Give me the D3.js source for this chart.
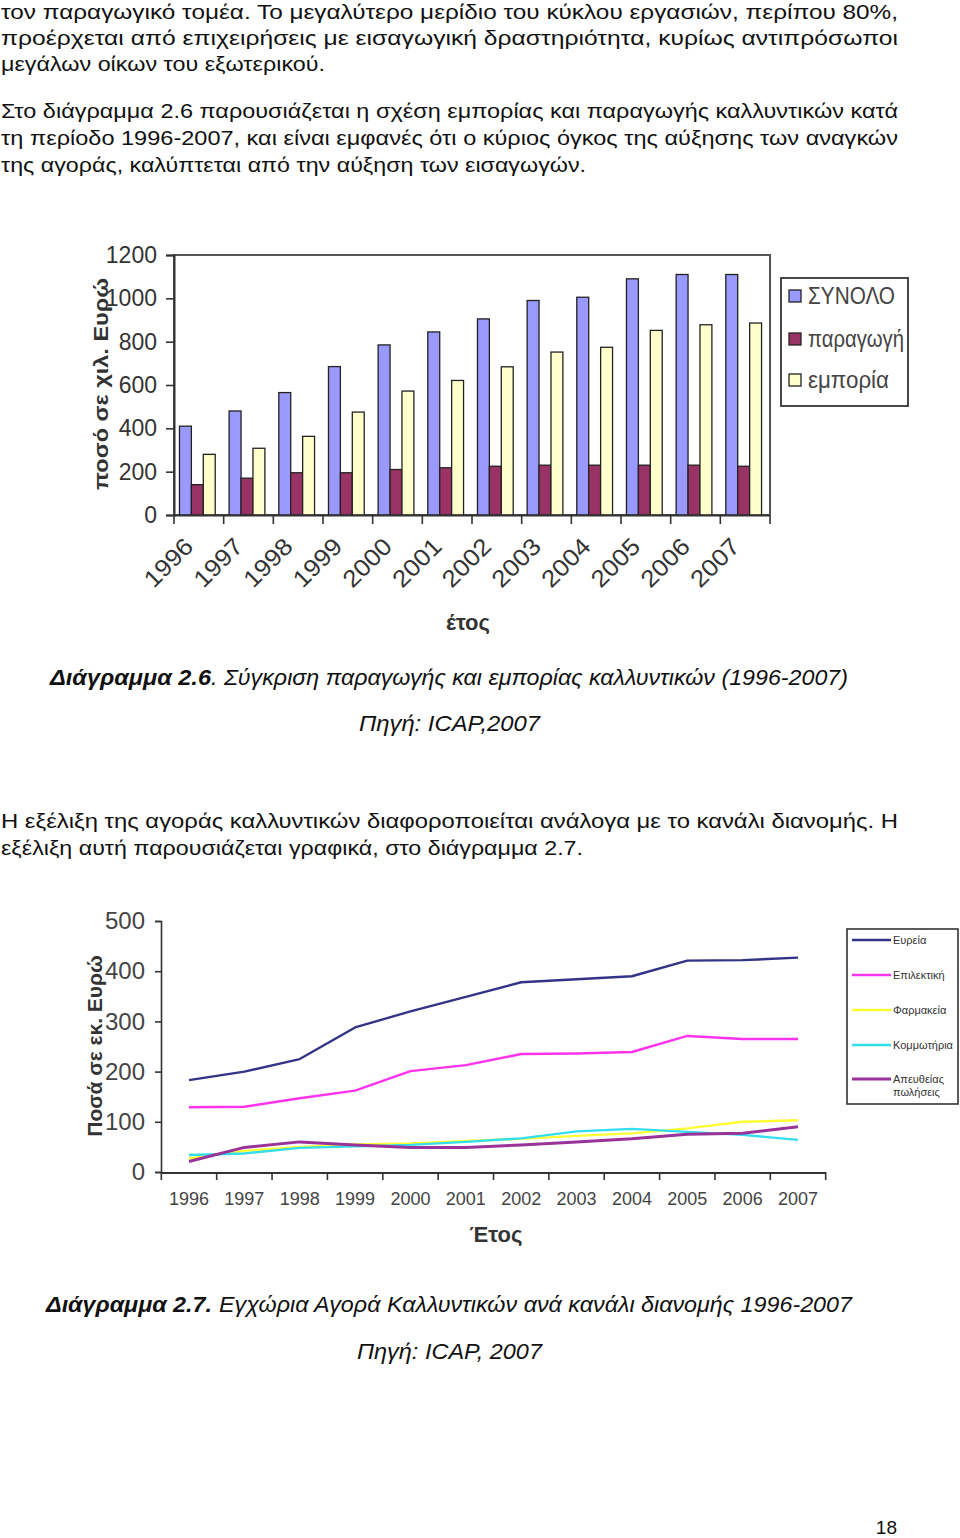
<!DOCTYPE html>
<html><head><meta charset="utf-8">
<script src="https://cdn.jsdelivr.net/npm/d3@7"></script>
<style>
html,body{margin:0;padding:0;background:#fff;}
svg{display:block;}
</style></head>
<body>
<svg id="page" width="960" height="1538"></svg>
<script>
// ---------- DATA ----------
const years = ["1996","1997","1998","1999","2000","2001","2002","2003","2004","2005","2006","2007"];
const barSeries = ["ΣΥΝΟΛΟ","παραγωγή","εμπορία"];
const totalVals = [410,480,565,685,785,845,905,990,1005,1090,1110,1110];
const productionVals = [140,170,195,195,210,218,225,230,230,230,230,225];
const tradeVals = [280,308,363,475,572,621,684,752,774,852,878,886];
const barTicks = [0,200,400,600,800,1000,1200];

const lineSeries = ["Ευρεία","Επιλεκτική","Φαρμακεία","Κομμωτήρια","Απευθείας πωλήσεις"];
const wideVals = [183,200,225,288,320,349,378,384,390,421,422,427];
const selectiveVals = [129,130,147,162,201,213,235,236,239,271,265,265];
const pharmacyVals = [27,42,50,55,57,62,66,72,77,87,100,103];
const salonVals = [34,37,48,51,54,60,67,81,86,80,74,64];
const directVals = [21,49,60,54,49,49,54,60,66,75,77,90];
const lineTicks = [0,100,200,300,400,500];

const NARROW = "'Liberation Sans Narrow','Arial Narrow','Liberation Sans',Arial,sans-serif";
const SANS = "'Liberation Sans',Arial,sans-serif";
const svg = d3.select("#page");

// ---------- BODY TEXT ----------
const bodyLines = [
  {t:"τον παραγωγικό τομέα. Το μεγαλύτερο μερίδιο του κύκλου εργασιών, περίπου 80%,", y:19, w:897},
  {t:"προέρχεται από επιχειρήσεις με εισαγωγική δραστηριότητα, κυρίως αντιπρόσωποι", y:45, w:897},
  {t:"μεγάλων οίκων του εξωτερικού.", y:71, w:324},
  {t:"Στο διάγραμμα 2.6 παρουσιάζεται η σχέση εμπορίας και παραγωγής καλλυντικών κατά", y:118, w:897},
  {t:"τη περίοδο 1996-2007,  και είναι εμφανές ότι ο κύριος όγκος της αύξησης των αναγκών", y:145, w:897},
  {t:"της αγοράς, καλύπτεται από την αύξηση των εισαγωγών.", y:172, w:585},
  {t:"Η εξέλιξη της αγοράς καλλυντικών διαφοροποιείται ανάλογα με το κανάλι διανομής. Η", y:828, w:897},
  {t:"εξέλιξη αυτή παρουσιάζεται γραφικά, στο διάγραμμα 2.7.", y:855, w:582}
];
svg.selectAll("text.body").data(bodyLines).join("text")
  .attr("class","body").attr("x",1).attr("y",d=>d.y)
  .attr("textLength",d=>d.w).attr("lengthAdjust","spacingAndGlyphs")
  .style("font-family",NARROW).style("font-size","21px").style("fill","#111")
  .text(d=>d.t);

// captions
function caption(boldTxt, restTxt, y, x0, x1, x2, x3){
  svg.append("text").attr("x",x0).attr("y",y).attr("textLength",x1-x0).attr("lengthAdjust","spacingAndGlyphs")
    .style("font-family",NARROW).style("font-size","22px").style("font-weight","bold").style("font-style","italic").style("fill","#111").text(boldTxt);
  svg.append("text").attr("x",x2).attr("y",y).attr("textLength",x3-x2).attr("lengthAdjust","spacingAndGlyphs")
    .style("font-family",NARROW).style("font-size","22px").style("font-style","italic").style("fill","#111").text(restTxt);
}
caption("Διάγραμμα 2.6", ". Σύγκριση παραγωγής και εμπορίας καλλυντικών (1996-2007)", 685, 50, 211, 211, 848);
caption("Διάγραμμα 2.7.", "Εγχώρια Αγορά Καλλυντικών ανά κανάλι διανομής 1996-2007", 1312, 46, 212, 219, 852);
svg.append("text").attr("x",359).attr("y",731).attr("textLength",181).attr("lengthAdjust","spacingAndGlyphs")
  .style("font-family",NARROW).style("font-size","22px").style("font-style","italic").style("fill","#111").text("Πηγή: ICAP,2007");
svg.append("text").attr("x",357).attr("y",1359).attr("textLength",185).attr("lengthAdjust","spacingAndGlyphs")
  .style("font-family",NARROW).style("font-size","22px").style("font-style","italic").style("fill","#111").text("Πηγή: ICAP, 2007");
svg.append("text").attr("x",897).attr("y",1534).attr("text-anchor","end")
  .style("font-family",SANS).style("font-size","19px").style("fill","#111").text("18");

// ---------- CHART 1: grouped bars ----------
(function(){
  const L=174,R=770,T=255,B=515;
  const x0 = d3.scaleBand().domain(years).range([L,R]);
  const bw = x0.bandwidth();
  const x1 = d3.scaleBand().domain(barSeries).range([bw*0.11, bw*0.83]);
  const y = d3.scaleLinear().domain([0,1200]).range([B,T]);
  const colors = {"ΣΥΝΟΛΟ":"#9999ff","παραγωγή":"#993366","εμπορία":"#ffffcc"};
  const valsBy = {"ΣΥΝΟΛΟ":totalVals,"παραγωγή":productionVals,"εμπορία":tradeVals};
  const g = svg.append("g");
  g.append("rect").attr("x",L).attr("y",T).attr("width",R-L).attr("height",B-T)
    .attr("fill","none").attr("stroke","#555").attr("stroke-width",2);
  const data = [];
  years.forEach((yr,i)=>barSeries.forEach(s=>data.push({yr,s,v:valsBy[s][i]})));
  g.selectAll("rect.bar").data(data).join("rect").attr("class","bar")
    .attr("x",d=>x0(d.yr)+x1(d.s)).attr("width",x1.bandwidth())
    .attr("y",d=>y(d.v)).attr("height",d=>B-y(d.v))
    .attr("fill",d=>colors[d.s]).attr("stroke","#222").attr("stroke-width",1.3);
  const ya = g.append("g").attr("transform",`translate(${L},0)`)
    .call(d3.axisLeft(y).tickValues(barTicks).tickSize(8).tickPadding(9).tickFormat(d3.format("d")));
  ya.select(".domain").attr("stroke","#333").attr("stroke-width",2);
  ya.selectAll(".tick line").attr("stroke","#333").attr("stroke-width",1.6);
  ya.selectAll("text").style("font-family",NARROW).style("font-size","23px").style("fill","#333");
  const bounds = years.map(yr=>x0(yr)).concat([R]);
  g.append("line").attr("x1",L).attr("x2",R).attr("y1",B+0.5).attr("y2",B+0.5).attr("stroke","#333").attr("stroke-width",2);
  g.selectAll("line.xt").data(bounds).join("line").attr("class","xt")
    .attr("x1",d=>d).attr("x2",d=>d).attr("y1",B).attr("y2",B+9).attr("stroke","#333").attr("stroke-width",1.6);
  g.selectAll("text.xl").data(years).join("text").attr("class","xl")
    .attr("transform",d=>`translate(${x0(d)+bw/2-4},${B+33}) rotate(-45)`)
    .attr("text-anchor","end").attr("textLength",58).attr("lengthAdjust","spacingAndGlyphs")
    .style("font-family",NARROW).style("font-size","24px").style("fill","#333").text(d=>d);
  g.append("text").attr("x",468).attr("y",630).attr("text-anchor","middle")
    .style("font-family",SANS).style("font-size","22px").style("font-weight","bold").style("fill","#333").text("έτος");
  g.append("text").attr("transform","translate(108,384) rotate(-90)").attr("text-anchor","middle")
    .attr("textLength",212).attr("lengthAdjust","spacingAndGlyphs")
    .style("font-family",SANS).style("font-size","21px").style("font-weight","bold").style("fill","#333").text("ποσό σε χιλ. Ευρώ");
  const lg = g.append("g");
  lg.append("rect").attr("x",781).attr("y",278).attr("width",127).attr("height",128).attr("fill","#fff").attr("stroke","#333").attr("stroke-width",1.8);
  const ly = [296,339,380];
  const lw = [87,96,81];
  barSeries.forEach((s,i)=>{
    lg.append("rect").attr("x",789).attr("y",ly[i]-6).attr("width",12).attr("height",12)
      .attr("fill",colors[s]).attr("stroke","#222").attr("stroke-width",1.3);
    lg.append("text").attr("x",808).attr("y",ly[i]+8)
      .attr("textLength",lw[i]).attr("lengthAdjust","spacingAndGlyphs")
      .style("font-family",NARROW).style("font-size","23px").style("fill","#444").text(s);
  });
})();

// ---------- CHART 2: lines ----------
(function(){
  const L=161,R=826,T=921,B=1172;
  const x = d3.scalePoint().domain(years).range([189,798]);
  const step = x.step();
  const y = d3.scaleLinear().domain([0,500]).range([B,T]);
  const colors = ["#333388","#ff33ee","#ffff33","#33ddee","#993399"];
  const widths = [2.4,2.4,2.4,2.4,3];
  const series = [wideVals,selectiveVals,pharmacyVals,salonVals,directVals];
  const g = svg.append("g");
  const line = d3.line().x((d,i)=>x(years[i])).y(d=>y(d));
  g.selectAll("path.ln").data(series).join("path").attr("class","ln")
    .attr("d",line).attr("fill","none")
    .attr("stroke",(d,i)=>colors[i]).attr("stroke-width",(d,i)=>widths[i]).attr("stroke-linejoin","round");
  const ya = g.append("g").attr("transform",`translate(${L},0)`)
    .call(d3.axisLeft(y).tickValues(lineTicks).tickSize(6).tickPadding(10).tickFormat(d3.format("d")));
  ya.select(".domain").attr("stroke","#333").attr("stroke-width",1.6);
  ya.selectAll(".tick line").attr("stroke","#333").attr("stroke-width",1.6);
  ya.selectAll("text").style("font-family",NARROW).style("font-size","24px").style("fill","#444");
  const bounds = years.map(yr=>x(yr)-step/2).concat([x(years[years.length-1])+step/2]);
  g.append("line").attr("x1",L).attr("x2",R).attr("y1",B+1).attr("y2",B+1).attr("stroke","#333").attr("stroke-width",1.8);
  g.selectAll("line.xt").data(bounds).join("line").attr("class","xt")
    .attr("x1",d=>d).attr("x2",d=>d).attr("y1",B).attr("y2",B+8).attr("stroke","#333").attr("stroke-width",1.6);
  g.selectAll("text.xl").data(years).join("text").attr("class","xl")
    .attr("x",d=>x(d)).attr("y",1205).attr("text-anchor","middle")
    .style("font-family",NARROW).style("font-size","18px").style("fill","#444").text(d=>d);
  g.append("text").attr("x",496).attr("y",1242).attr("text-anchor","middle")
    .style("font-family",SANS).style("font-size","22px").style("font-weight","bold").style("fill","#333").text("Έτος");
  g.append("text").attr("transform","translate(102,1046) rotate(-90)").attr("text-anchor","middle")
    .style("font-family",SANS).style("font-size","21px").style("font-weight","bold").style("fill","#333").text("Ποσά σε εκ. Ευρώ");
  const lg = g.append("g");
  lg.append("rect").attr("x",847).attr("y",929).attr("width",111).attr("height",175).attr("fill","#fff").attr("stroke","#333").attr("stroke-width",1.6);
  const ly = [940,975,1010,1045,1079];
  lineSeries.forEach((s,i)=>{
    lg.append("line").attr("x1",852).attr("x2",891).attr("y1",ly[i]).attr("y2",ly[i])
      .attr("stroke",colors[i]).attr("stroke-width",widths[i]);
    const t = lg.append("text").attr("x",893).attr("y",ly[i]+4)
      .style("font-family",NARROW).style("font-size","11px").style("fill","#333");
    if(i===4){
      t.append("tspan").attr("x",893).attr("y",ly[i]+4).text("Απευθείας");
      t.append("tspan").attr("x",893).attr("y",ly[i]+17).text("πωλήσεις");
    } else t.text(s);
  });
})();
</script>
</body></html>
